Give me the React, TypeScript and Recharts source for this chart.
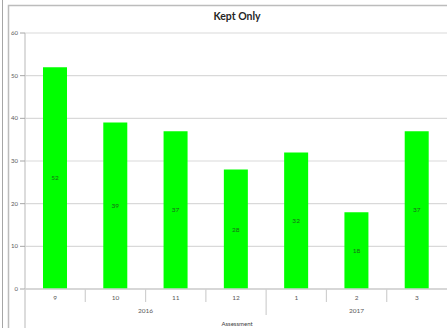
import React from 'react';
import { BarChart, Bar, XAxis, YAxis, CartesianGrid, LabelList } from 'recharts';

// Chart data
const months = ['9', '10', '11', '12', '1', '2', '3'];
const years = ['2016', '2016', '2016', '2016', '2017', '2017', '2017'];
const keptValues = [52, 39, 37, 28, 32, 18, 37];
const yTicks = [0, 10, 20, 30, 40, 50, 60];

const data = months.map((m, i) => ({ month: m, year: years[i], kept: keptValues[i] }));

const CHART_W = 447;
const CHART_H = 328;
const PLOT_LEFT = 25;
const PLOT_RIGHT = 447;
const PLOT_BOTTOM = 289;
const BAND = (PLOT_RIGHT - PLOT_LEFT) / months.length;
const AXIS_GRAY = '#d0d0d0';
const TEXT_GRAY = '#595959';
const FONT = 'Lato, "Open Sans", sans-serif';

// Two-level category tick: month on top, year group below
const MonthYearTick = (props: any) => {
  const { x, payload } = props;
  const i = payload.index;
  const left = x - BAND / 2;
  const newGroup = i === 0 || years[i] !== years[i - 1];

  let yearLabel = null;
  if (newGroup) {
    let end = i;
    while (end + 1 < years.length && years[end + 1] === years[i]) end++;
    const cx = x + ((end - i) / 2) * BAND;
    yearLabel = (
      <text x={cx} y={PLOT_BOTTOM + 24} textAnchor="middle" fontSize={6.5} fill={TEXT_GRAY} fontFamily={FONT}>
        {years[i]}
      </text>
    );
  }

  return (
    <g>
      {i === 0 ? (
        <line x1={left} x2={left} y1={PLOT_BOTTOM} y2={CHART_H} stroke={AXIS_GRAY} strokeWidth={1.5} />
      ) : (
        <line x1={left} x2={left} y1={PLOT_BOTTOM} y2={PLOT_BOTTOM + (newGroup ? 26 : 13)} stroke={AXIS_GRAY} strokeWidth={1.2} />
      )}
      <text x={x} y={PLOT_BOTTOM + 11} textAnchor="middle" fontSize={6.5} fill={TEXT_GRAY} fontFamily={FONT}>
        {payload.value}
      </text>
      {yearLabel}
      {i === 0 && (
        <text x={237} y={PLOT_BOTTOM + 37} textAnchor="middle" fontSize={6} fill="#404040" fontFamily={FONT}>
          Assessment
        </text>
      )}
    </g>
  );
};

const App: React.FC = () => {
  return (
    <div style={{ position: 'fixed', left: 0, top: 0, width: 447, height: 328, overflow: 'hidden', background: '#fff' }}>
      {/* frame and title */}
      <svg width={447} height={328} style={{ position: 'absolute', left: 0, top: 0 }}>
        <line x1={2.5} x2={2.5} y1={0} y2={328} stroke="#a6a6a6" strokeWidth={1} />
        <path d="M8.5,328 L8.5,5.5 L447,5.5" fill="none" stroke="#bcbcbc" strokeWidth={1.5} />
        <text x={237} y={20} textAnchor="middle" fontFamily={FONT} fontWeight={700} fontSize={10.5} fill="#262626">
          Kept Only
        </text>
      </svg>
      <div style={{ position: 'absolute', left: 0, top: 0 }}>
        <BarChart width={CHART_W} height={CHART_H} data={data} margin={{ top: 33, right: 0, left: 0, bottom: 0 }}>
          <CartesianGrid horizontal vertical={false} stroke="#d9d9d9" strokeWidth={1.2} />
          <XAxis
            dataKey="month"
            height={CHART_H - PLOT_BOTTOM}
            axisLine={{ stroke: AXIS_GRAY, strokeWidth: 1.5 }}
            tickLine={false}
            interval={0}
            tick={<MonthYearTick />}
          />
          <YAxis
            width={PLOT_LEFT}
            domain={[0, 60]}
            ticks={yTicks}
            interval={0}
            axisLine={{ stroke: AXIS_GRAY, strokeWidth: 1.5 }}
            tickLine={{ stroke: '#a6a6a6' }}
            tickSize={5}
            tickMargin={2}
            tick={{ fontSize: 6, fill: TEXT_GRAY, fontFamily: FONT }}
          />
          <Bar dataKey="kept" fill="#00ff00" barSize={24} isAnimationActive={false}>
            <LabelList dataKey="kept" position="center" fontSize={6.5} fill="#1a6b1a" fontFamily={FONT} />
          </Bar>
        </BarChart>
      </div>
    </div>
  );
};

export default App;
